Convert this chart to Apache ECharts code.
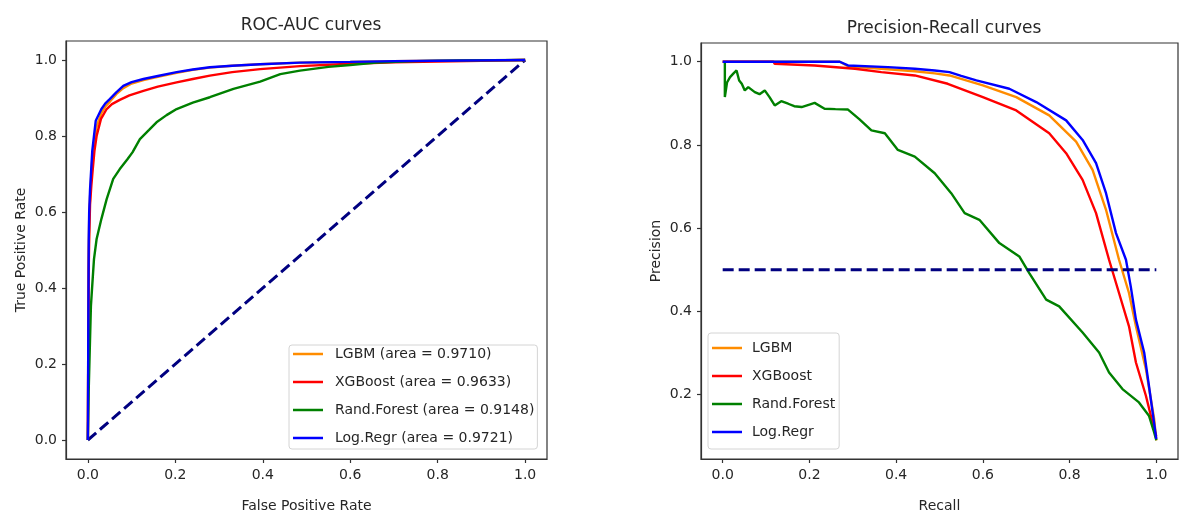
<!DOCTYPE html>
<html>
<head>
<meta charset="utf-8">
<script src="https://cdn.jsdelivr.net/npm/echarts@6.0.0/dist/echarts.min.js"></script>
<style>
html,body{margin:0;padding:0;background:#fff;}
#chart{width:1180px;height:518px;}
</style>
</head>
<body>
<div id="chart"></div>
<script>
// ---------- DATA ----------
var modelNames = ['LGBM', 'XGBoost', 'Rand.Forest', 'Log.Regr'];
var aucValues = ['0.9710', '0.9633', '0.9148', '0.9721'];
var modelColors = ['#ff8c00', '#ff0000', '#008000', '#0000ff'];

// ROC curves (false positive rate, true positive rate)
var rocLgbmFpr = [0, 0.001, 0.002, 0.003, 0.005, 0.007, 0.010, 0.014, 0.020, 0.031, 0.040, 0.050, 0.065, 0.081, 0.100, 0.127, 0.160, 0.203, 0.240, 0.279, 0.330, 0.394, 0.485, 0.600, 0.700, 0.800, 0.900, 1.0];
var rocLgbmTpr = [0, 0.28, 0.50, 0.58, 0.64, 0.68, 0.74, 0.78, 0.825, 0.86, 0.878, 0.890, 0.910, 0.926, 0.938, 0.947, 0.956, 0.966, 0.974, 0.980, 0.985, 0.989, 0.993, 0.995, 0.997, 0.998, 0.999, 1.0];
var rocXgbFpr = [0, 0.001, 0.002, 0.003, 0.005, 0.008, 0.011, 0.015, 0.020, 0.030, 0.043, 0.055, 0.073, 0.095, 0.127, 0.160, 0.203, 0.240, 0.279, 0.330, 0.394, 0.485, 0.600, 0.700, 0.800, 0.900, 1.0];
var rocXgbTpr = [0, 0.25, 0.45, 0.53, 0.62, 0.67, 0.71, 0.76, 0.80, 0.845, 0.871, 0.884, 0.895, 0.907, 0.919, 0.930, 0.941, 0.950, 0.959, 0.968, 0.976, 0.984, 0.990, 0.994, 0.996, 0.998, 1.0];
var rocRfFpr = [0, 0.001, 0.002, 0.005, 0.007, 0.011, 0.014, 0.020, 0.031, 0.043, 0.058, 0.073, 0.090, 0.102, 0.119, 0.140, 0.157, 0.180, 0.203, 0.240, 0.279, 0.333, 0.394, 0.440, 0.485, 0.550, 0.600, 0.660, 0.750, 0.850, 1.0];
var rocRfTpr = [0, 0.07, 0.134, 0.266, 0.353, 0.424, 0.476, 0.529, 0.582, 0.634, 0.687, 0.713, 0.738, 0.757, 0.792, 0.816, 0.836, 0.855, 0.871, 0.888, 0.902, 0.924, 0.943, 0.963, 0.972, 0.982, 0.987, 0.993, 0.997, 0.999, 1.0];
var rocLrFpr = [0, 0.001, 0.002, 0.003, 0.005, 0.007, 0.010, 0.014, 0.018, 0.031, 0.040, 0.050, 0.065, 0.081, 0.100, 0.127, 0.160, 0.203, 0.240, 0.279, 0.330, 0.394, 0.485, 0.600, 0.700, 0.800, 0.900, 1.0];
var rocLrTpr = [0, 0.30, 0.53, 0.60, 0.66, 0.70, 0.76, 0.80, 0.84, 0.871, 0.886, 0.897, 0.915, 0.932, 0.942, 0.950, 0.958, 0.968, 0.975, 0.981, 0.985, 0.989, 0.993, 0.995, 0.997, 0.998, 0.999, 1.0];
var rocDiagX = [0, 1];
var rocDiagY = [0, 1];

// Precision-Recall curves (recall, precision)
var prLgbmRec = [0, 0.27, 0.289, 0.381, 0.443, 0.489, 0.523, 0.6, 0.677, 0.753, 0.815, 0.853, 0.884, 0.914, 0.937, 0.953, 0.976, 0.995, 1.0];
var prLgbmPrec = [1.0, 1.0, 0.989, 0.982, 0.977, 0.972, 0.967, 0.943, 0.915, 0.871, 0.808, 0.740, 0.644, 0.524, 0.444, 0.364, 0.261, 0.141, 0.09];
var prXgbRec = [0, 0.117, 0.12, 0.212, 0.305, 0.366, 0.443, 0.519, 0.6, 0.677, 0.753, 0.792, 0.83, 0.861, 0.891, 0.914, 0.937, 0.953, 0.976, 0.995, 1.0];
var prXgbPrec = [1.0, 1.0, 0.995, 0.991, 0.983, 0.975, 0.967, 0.947, 0.915, 0.883, 0.828, 0.780, 0.716, 0.636, 0.524, 0.444, 0.364, 0.277, 0.197, 0.117, 0.10];
var prRfRec = [0.005, 0.005, 0.010, 0.017, 0.025, 0.032, 0.038, 0.044, 0.051, 0.059, 0.074, 0.085, 0.097, 0.108, 0.12, 0.135, 0.151, 0.165, 0.182, 0.200, 0.212, 0.235, 0.260, 0.289, 0.315, 0.343, 0.374, 0.404, 0.443, 0.489, 0.527, 0.558, 0.592, 0.638, 0.684, 0.707, 0.746, 0.776, 0.83, 0.868, 0.891, 0.922, 0.96, 0.983, 0.995, 1.0];
var prRfPrec = [1.0, 0.915, 0.95, 0.963, 0.972, 0.979, 0.955, 0.947, 0.931, 0.939, 0.927, 0.922, 0.931, 0.915, 0.895, 0.905, 0.899, 0.893, 0.891, 0.897, 0.901, 0.887, 0.886, 0.885, 0.862, 0.835, 0.828, 0.788, 0.772, 0.732, 0.684, 0.636, 0.620, 0.564, 0.532, 0.492, 0.428, 0.412, 0.349, 0.301, 0.253, 0.213, 0.181, 0.149, 0.109, 0.09];
var prLrRec = [0, 0.27, 0.289, 0.381, 0.443, 0.489, 0.523, 0.55, 0.585, 0.661, 0.723, 0.792, 0.83, 0.861, 0.884, 0.907, 0.93, 0.941, 0.953, 0.972, 0.983, 1.0];
var prLrPrec = [1.0, 1.0, 0.991, 0.987, 0.983, 0.979, 0.975, 0.966, 0.955, 0.935, 0.903, 0.859, 0.812, 0.756, 0.684, 0.588, 0.524, 0.46, 0.38, 0.301, 0.221, 0.093];
var prBaseX = [0, 1];
var prBaseY = [0.5, 0.5];

// Tick labels
var rocTicks = [0, 0.2, 0.4, 0.6, 0.8, 1.0];
var prXTicks = [0, 0.2, 0.4, 0.6, 0.8, 1.0];
var prYTicks = [0.2, 0.4, 0.6, 0.8, 1.0];

// ---------- BUILD ----------
function zip(xs, ys) { return xs.map(function (x, i) { return [x, ys[i]]; }); }

var FONT = 'DejaVu Sans';
var TXT = '#262626';
var FRAME = '#333';

var rocX = [rocLgbmFpr, rocXgbFpr, rocRfFpr, rocLrFpr];
var rocY = [rocLgbmTpr, rocXgbTpr, rocRfTpr, rocLrTpr];
var prX = [prLgbmRec, prXgbRec, prRfRec, prLrRec];
var prY = [prLgbmPrec, prXgbPrec, prRfPrec, prLrPrec];

var rocNames = modelNames.map(function (n, i) { return n + ' (area = ' + aucValues[i] + ')'; });

function valAxis(gridIndex, min, max, ticks, opts) {
  var a = {
    type: 'value', gridIndex: gridIndex, min: min, max: max,
    splitLine: { show: false },
    axisLine: { show: true, onZero: false, lineStyle: { color: FRAME, width: 1.2 } },
    axisTick: { show: true, inside: false, length: 4, lineStyle: { color: FRAME, width: 1.2 }, customValues: ticks },
    axisLabel: { show: true, margin: 9, color: TXT, fontFamily: FONT, fontSize: 14, customValues: ticks,
      formatter: function (v) { return Number(v).toFixed(1); } },
    nameLocation: 'middle',
    nameTextStyle: { color: TXT, fontFamily: FONT, fontSize: 14 }
  };
  for (var k in opts) a[k] = opts[k];
  return a;
}

var series = [];
// ROC
series.push({
  type: 'line', xAxisIndex: 0, yAxisIndex: 0, data: zip(rocDiagX, rocDiagY),
  symbol: 'none', silent: true, z: 1,
  lineStyle: { color: '#000080', width: 3, type: [11, 5] }
});
modelNames.forEach(function (n, i) {
  series.push({
    name: rocNames[i], type: 'line', xAxisIndex: 0, yAxisIndex: 0,
    data: zip(rocX[i], rocY[i]), symbol: 'none', showSymbol: false, z: 2 + i,
    color: modelColors[i], lineStyle: { color: modelColors[i], width: 2.4 }
  });
});
// PR
modelNames.forEach(function (n, i) {
  series.push({
    name: n, type: 'line', xAxisIndex: 1, yAxisIndex: 1,
    data: zip(prX[i], prY[i]), symbol: 'none', showSymbol: false, z: 2 + i,
    color: modelColors[i], lineStyle: { color: modelColors[i], width: 2.4 }
  });
});
series.push({
  type: 'line', xAxisIndex: 1, yAxisIndex: 1, data: zip(prBaseX, prBaseY),
  symbol: 'none', silent: true, z: 10,
  lineStyle: { color: '#000080', width: 3, type: [11, 5] }
});

var legendCommon = {
  orient: 'vertical', icon: 'rect', itemWidth: 30, itemHeight: 2.5, itemGap: 12,
  backgroundColor: 'rgba(255,255,255,0.85)', borderColor: '#d4d4d4', borderWidth: 1, borderRadius: 3,
  selectedMode: false,
  textStyle: { color: TXT, fontFamily: FONT, fontSize: 14, lineHeight: 16 }
};
function mk(base, extra) { var o = {}; for (var k in base) o[k] = base[k]; for (var j in extra) o[j] = extra[j]; return o; }

var option = {
  animation: false,
  backgroundColor: '#fff',
  title: [
    { text: 'ROC-AUC curves', left: 306, top: 12, textAlign: 'center',
      textStyle: { color: TXT, fontFamily: FONT, fontSize: 17, fontWeight: 'normal' } },
    { text: 'Precision-Recall curves', left: 939, top: 15, textAlign: 'center',
      textStyle: { color: TXT, fontFamily: FONT, fontSize: 17, fontWeight: 'normal' } }
  ],
  grid: [
    { left: 66, top: 41, width: 481, height: 420, show: true, borderColor: FRAME, borderWidth: 1.2, backgroundColor: 'transparent' },
    { left: 701, top: 43, width: 477, height: 417, show: true, borderColor: FRAME, borderWidth: 1.2, backgroundColor: 'transparent' }
  ],
  xAxis: [
    valAxis(0, -0.05, 1.05, rocTicks, { name: 'False Positive Rate', nameGap: 40 }),
    valAxis(1, -0.05, 1.05, prXTicks, { name: 'Recall', nameGap: 40 })
  ],
  yAxis: [
    valAxis(0, -0.05, 1.05, rocTicks, { name: 'True Positive Rate', nameGap: 38 }),
    valAxis(1, 0.045, 1.045, prYTicks, { name: 'Precision', nameGap: 38 })
  ],
  legend: [
    mk(legendCommon, { data: rocNames, left: 289, top: 345, padding: [1, 3, 3, 4],
      textStyle: { color: TXT, fontFamily: FONT, fontSize: 14, lineHeight: 16, padding: [0, 0, 0, 7] } }),
    mk(legendCommon, { data: modelNames, left: 708, top: 333, padding: [7, 4, 9, 4],
      textStyle: { color: TXT, fontFamily: FONT, fontSize: 14, lineHeight: 16, padding: [0, 0, 0, 5] } })
  ],
  series: series
};

var chart = echarts.init(document.getElementById('chart'), null, { renderer: 'canvas' });
chart.setOption(option);
</script>
</body>
</html>
